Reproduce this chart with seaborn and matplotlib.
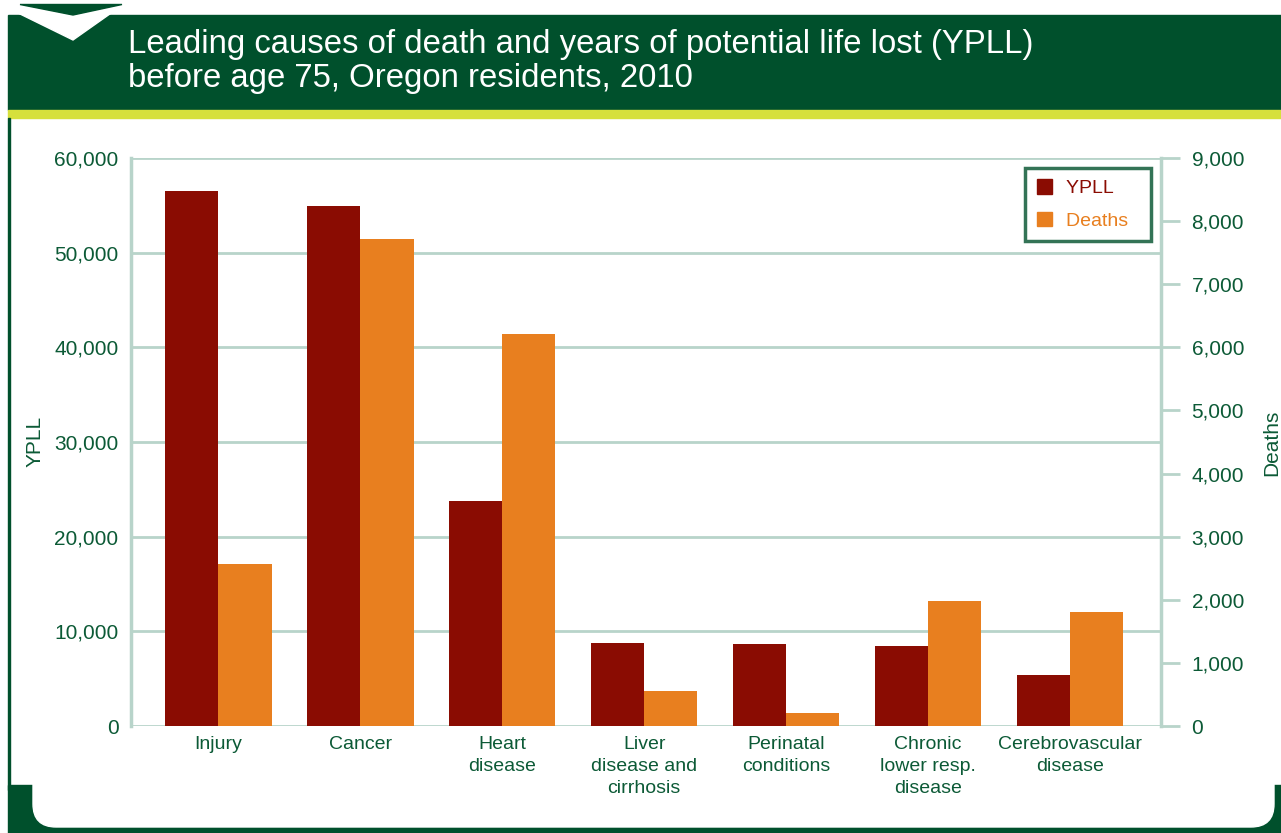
import seaborn as sns
import matplotlib.pyplot as plt
import pandas as pd
from matplotlib.patches import Rectangle, Polygon, FancyBboxPatch, Patch

# Data
causes = ['Injury', 'Cancer', 'Heart\ndisease', 'Liver\ndisease and\ncirrhosis',
          'Perinatal\nconditions', 'Chronic\nlower resp.\ndisease', 'Cerebrovascular\ndisease']
ypll = [56500, 54900, 23800, 8750, 8650, 8450, 5400]
deaths = [2570, 7720, 6210, 555, 205, 1980, 1805]
series = ['YPLL', 'Deaths']
ypll_ticks = [0, 10000, 20000, 30000, 40000, 50000, 60000]
death_ticks = [0, 1000, 2000, 3000, 4000, 5000, 6000, 7000, 8000, 9000]

RED = '#8a0c02'
ORANGE = '#e87f1f'
GREEN = '#00502c'
TXT = '#0c5a36'
GRID = '#b8d4ca'
LIME = '#d6e03c'

W, H = 1281, 833

# each axis gets both hue levels so the bars dodge; the other measure is 0
zeros = [0] * len(causes)
df_y = pd.DataFrame({'cause': causes * 2, 'value': ypll + zeros,
                     'measure': ['YPLL'] * 7 + ['Deaths'] * 7})
df_d = pd.DataFrame({'cause': causes * 2, 'value': zeros + deaths,
                     'measure': ['YPLL'] * 7 + ['Deaths'] * 7})

sns.set_style('white')
plt.rcParams['font.family'] = ['Liberation Sans', 'DejaVu Sans']

fig = plt.figure(figsize=(W / 100, H / 100), dpi=100)


def px(x, y):
    return (x / W, 1 - y / H)


def fig_rect(x0, y0, x1, y1, **kw):
    fig.patches.append(Rectangle(px(x0, y1), (x1 - x0) / W, (y1 - y0) / H,
                                 transform=fig.transFigure, **kw))


# header band + stripe + chevron
fig_rect(8, 15, W, 110, color=GREEN, zorder=0)
fig_rect(8, 110, W, 118, color=LIME, zorder=0)
fig.patches.append(Polygon([px(18, 13), px(73, 40), px(124, 4), px(73, 15)], closed=True,
                           transform=fig.transFigure, color='white', zorder=1))
fig.patches.append(Polygon([px(20, 4.5), px(122, 4.5), px(73, 15)], closed=True,
                           transform=fig.transFigure, color=GREEN, zorder=2))
fig.text(*px(128, 45), 'Leading causes of death and years of potential life lost (YPLL)',
         color='white', fontsize=23.7, va='center', ha='left')
fig.text(*px(128, 78), 'before age 75, Oregon residents, 2010',
         color='white', fontsize=23.7, va='center', ha='left')

# frame at left and bottom
fig_rect(8, 118, 10, 790, color=GREEN, zorder=0)
fig_rect(8, 785, W, H, color=GREEN, zorder=0)
fig.patches.append(FancyBboxPatch(px(33, 827), (1274 - 33) / W, (827 - 740) / H,
                                  boxstyle='round,pad=0,rounding_size=0.018',
                                  transform=fig.transFigure, color='white', zorder=1,
                                  mutation_aspect=W / H))

ax1 = fig.add_axes([131 / W, 1 - 726 / H, (1161 - 131) / W, (726 - 158) / H])
ax1.set_zorder(3)
ax2 = ax1.twinx()

sns.barplot(data=df_y, x='cause', y='value', hue='measure', hue_order=series,
            palette=[RED, ORANGE], width=0.75, ax=ax1, legend=False,
            saturation=1, zorder=3, order=causes, linewidth=0)
sns.barplot(data=df_d, x='cause', y='value', hue='measure', hue_order=series,
            palette=[RED, ORANGE], width=0.75, ax=ax2, legend=False,
            saturation=1, zorder=3, order=causes, linewidth=0)

ax1.set_ylim(0, 60000)
ax2.set_ylim(0, 9000)
ax1.set_xlim(-0.615, 6.64)
ax1.set_yticks(ypll_ticks)
ax1.set_yticklabels([f'{v:,}' for v in ypll_ticks])
ax2.set_yticks(death_ticks)
ax2.set_yticklabels([f'{v:,}' for v in death_ticks])

for v in ypll_ticks:
    ax1.axhline(v, color=GRID, lw=2, zorder=1)

ax1.tick_params(axis='y', length=0, pad=9, labelsize=15, labelcolor=TXT)
ax1.tick_params(axis='x', length=0, pad=7, labelsize=14, labelcolor=TXT)
ax2.tick_params(axis='y', length=14, width=2, color=GRID, pad=8,
                labelsize=15, labelcolor=TXT)
for lab in ax1.get_xticklabels():
    lab.set_linespacing(1.38)

for ax in (ax1, ax2):
    for s in ax.spines.values():
        s.set_visible(False)
    ax.set_xlabel('')
    ax.set_ylabel('')
ax2.spines['right'].set_visible(True)
ax2.spines['right'].set_color(GRID)
ax2.spines['right'].set_linewidth(2.5)
ax1.spines['left'].set_visible(True)
ax1.spines['left'].set_color(GRID)
ax1.spines['left'].set_linewidth(2.5)

fig.text(*px(35, 441), 'YPLL', color=TXT, fontsize=15, rotation=90,
         ha='center', va='center')
fig.text(*px(1272, 443), 'Deaths', color=TXT, fontsize=15, rotation=90,
         ha='center', va='center')

handles = [Patch(color=RED, label='YPLL  '), Patch(color=ORANGE, label='Deaths  ')]
leg = ax2.legend(handles=handles, loc='upper right', bbox_to_anchor=(0.99, 0.983),
                 fontsize=14, frameon=True, fancybox=False, handlelength=0.75,
                 handleheight=0.75, handletextpad=0.75, labelspacing=0.75,
                 borderpad=0.6, borderaxespad=0)
leg.get_frame().set_edgecolor(GREEN)
leg.get_frame().set_linewidth(2.5)
for t, c in zip(leg.get_texts(), [RED, ORANGE]):
    t.set_color(c)

fig.savefig('out.png', dpi=100)
